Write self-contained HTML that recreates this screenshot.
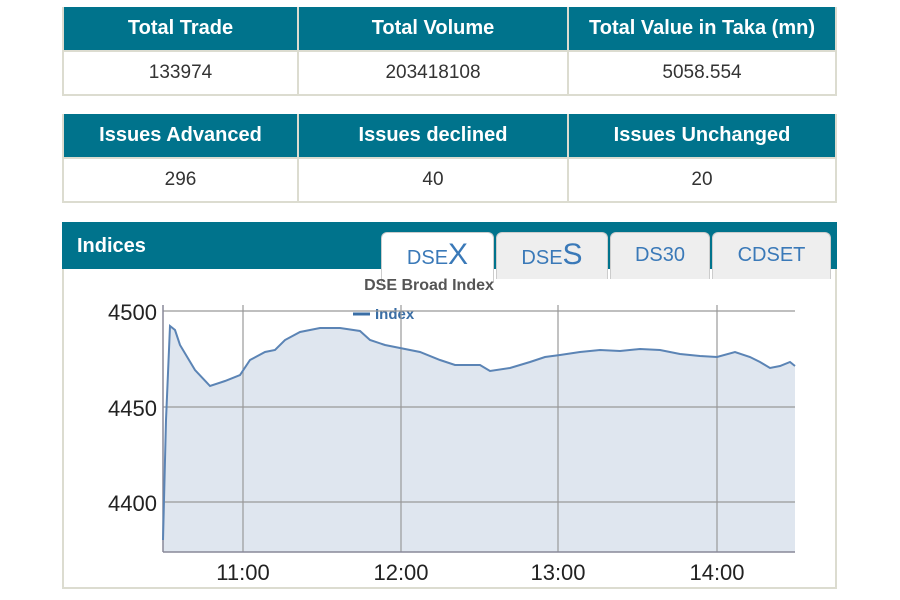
<!DOCTYPE html>
<html><head><meta charset="utf-8"><style>
body{margin:0;width:900px;height:600px;background:#fff;font-family:"Liberation Sans",Arial,sans-serif;position:relative;overflow:hidden}
table{position:absolute;left:62px;width:775px;border-collapse:collapse;table-layout:fixed}
td{border:2px solid #dcdcd0;text-align:center;height:40px;font-size:19px;color:#333}
th{background:#00738c;color:#fff;font-size:20px;font-weight:bold;height:41px;border:2px solid #dcdcd0;border-bottom:none;border-top:none}
.tab{position:absolute;top:232px;height:46px;background:#eee;border:1px solid #ccc;border-bottom:none;border-radius:6px 6px 0 0;color:#3a79b8;font-size:20px;text-align:center;line-height:44px}
</style></head><body>
<table style="top:7px"><colgroup><col style="width:235px"><col style="width:270px"><col></colgroup>
<tr><th>Total Trade</th><th>Total Volume</th><th>Total Value in Taka (mn)</th></tr>
<tr><td>133974</td><td>203418108</td><td>5058.554</td></tr></table>
<table style="top:114px"><colgroup><col style="width:235px"><col style="width:270px"><col></colgroup>
<tr><th>Issues Advanced</th><th>Issues declined</th><th>Issues Unchanged</th></tr>
<tr><td>296</td><td>40</td><td>20</td></tr></table>
<div style="position:absolute;left:62px;top:222px;width:775px;height:47px;background:#00738c"></div>
<div style="position:absolute;left:77px;top:235px;color:#fff;font-weight:bold;font-size:20px">Indices</div>
<div style="position:absolute;left:62px;top:269px;width:771px;height:318px;border:2px solid #dcdcd0;border-top:none"></div>
<div class="tab" style="left:381px;width:111px;background:#fff;height:50px">DSE<span style="font-size:30px">X</span></div>
<div class="tab" style="left:496px;width:110px">DSE<span style="font-size:30px">S</span></div>
<div class="tab" style="left:610px;width:98px">DS30</div>
<div class="tab" style="left:712px;width:117px">CDSET</div>
<svg style="position:absolute;left:0;top:0" width="900" height="600">
<text x="429" y="290" font-size="16" font-weight="bold" fill="#555" text-anchor="middle">DSE Broad Index</text>
<line x1="353" y1="314" x2="370" y2="314" stroke="#3a6ea5" stroke-width="3"/>
<text x="375" y="319" font-size="15" font-weight="bold" fill="#3a6ea5">Index</text>
<polygon fill="#dfe6ef" points="163,552 163,540 166,420 170,326 175,330 180,345 195,370 210,386 225,381 240,375 250,360 265,352 275,350 285,340 300,332 320,328 340,328 360,331 370,340 385,345 400,348 420,352 440,360 455,365 480,365 490,371 510,368 530,362 545,357 560,355 580,352 600,350 620,351 640,349 660,350 680,354 700,356 717,357 735,352 750,357 760,362 770,368 780,366 790,362 795,366 795,552"/>
<g stroke="#999" stroke-width="1.2">
<line x1="163" y1="311" x2="795" y2="311"/><line x1="163" y1="407" x2="795" y2="407"/><line x1="163" y1="502" x2="795" y2="502"/>
<line x1="243" y1="305" x2="243" y2="552"/><line x1="401" y1="305" x2="401" y2="552"/><line x1="558" y1="305" x2="558" y2="552"/><line x1="717" y1="305" x2="717" y2="552"/>
</g>
<line x1="163" y1="305" x2="163" y2="552" stroke="#889" stroke-width="1.5"/>
<line x1="163" y1="552" x2="795" y2="552" stroke="#889" stroke-width="1.5"/>
<polyline fill="none" stroke="#5b84b5" stroke-width="2" points="163,540 166,420 170,326 175,330 180,345 195,370 210,386 225,381 240,375 250,360 265,352 275,350 285,340 300,332 320,328 340,328 360,331 370,340 385,345 400,348 420,352 440,360 455,365 480,365 490,371 510,368 530,362 545,357 560,355 580,352 600,350 620,351 640,349 660,350 680,354 700,356 717,357 735,352 750,357 760,362 770,368 780,366 790,362 795,366"/>
<g font-size="22" fill="#222" text-anchor="end">
<text x="157" y="320">4500</text><text x="157" y="416">4450</text><text x="157" y="511">4400</text></g>
<g font-size="22" fill="#222" text-anchor="middle">
<text x="243" y="580">11:00</text><text x="401" y="580">12:00</text><text x="558" y="580">13:00</text><text x="717" y="580">14:00</text></g>
</svg>
</body></html>
